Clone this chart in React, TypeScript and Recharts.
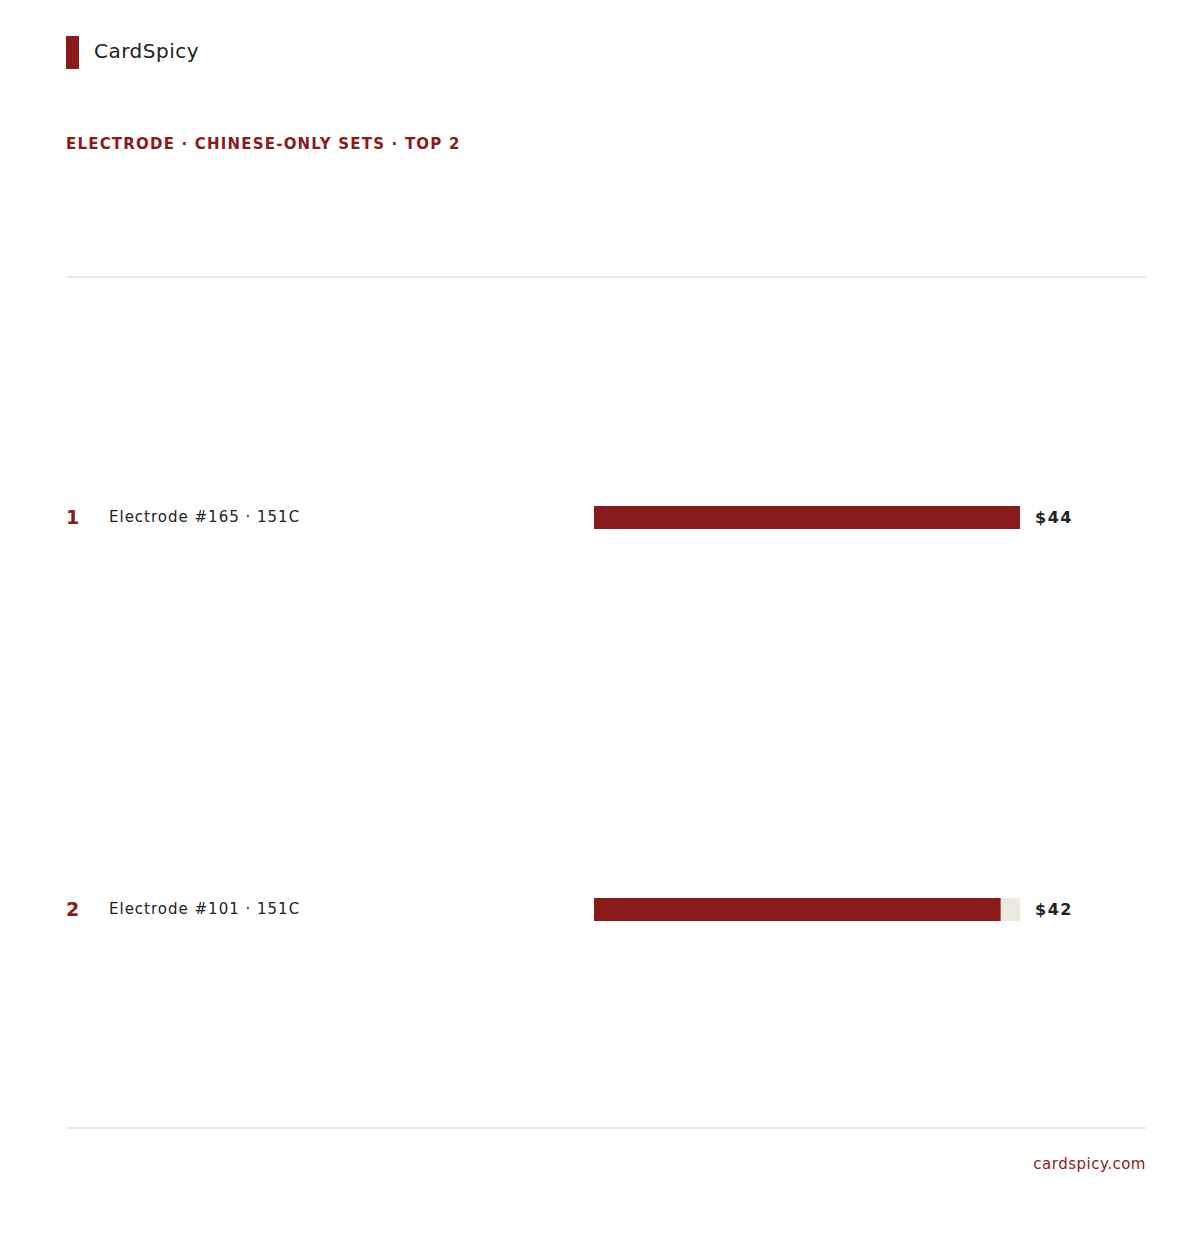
import React from "react";
import { Bar, BarChart, XAxis, YAxis } from "recharts";

// top 2 Chinese-only Electrode cards by price
const RANKS = [1, 2];
const CARD_NAMES = ["Electrode #165 · 151C", "Electrode #101 · 151C"];
const PRICES = [44, 42];

const RED = "#8b1a1a";
const TRACK = "#ece9e1";
const INK = "#222222";
const RULE = "#ebe8e3";
const FONT = "'DejaVu Sans', sans-serif";

const rows = CARD_NAMES.map((name, i) => ({
  key: String(i),
  rank: RANKS[i],
  name,
  price: PRICES[i],
}));

function NameTick(props: any) {
  const row = rows[props.index];
  if (!row) return null;
  return (
    <g>
      <text
        x={66}
        y={props.y}
        dy="0.35em"
        fill={RED}
        fontSize={19}
        fontWeight={700}
        fontFamily={FONT}
      >
        {row.rank}
      </text>
      <text
        x={109}
        y={props.y}
        dy="0.35em"
        fill={INK}
        fontSize={15}
        letterSpacing={1}
        fontFamily={FONT}
      >
        {row.name}
      </text>
    </g>
  );
}

function PriceTick(props: any) {
  const row = rows[props.index];
  if (!row) return null;
  return (
    <text
      x={1035}
      y={props.y}
      dy="0.35em"
      fill={INK}
      fontSize={16}
      fontWeight={700}
      letterSpacing={1.5}
      fontFamily={FONT}
    >
      ${row.price}
    </text>
  );
}

export default function App() {
  return (
    <div
      style={{
        position: "absolute",
        left: 0,
        top: 0,
        width: 1200,
        height: 1250,
        background: "#fff",
        fontFamily: FONT,
      }}
    >
      <div
        style={{ position: "absolute", left: 66, top: 36, width: 13, height: 33, background: RED }}
      />
      <div
        style={{
          position: "absolute",
          left: 94,
          top: 38,
          fontSize: 20,
          lineHeight: "26px",
          letterSpacing: 0.5,
          color: INK,
        }}
      >
        CardSpicy
      </div>
      <div
        style={{
          position: "absolute",
          left: 66,
          top: 134,
          fontSize: 15,
          lineHeight: "20px",
          fontWeight: 700,
          letterSpacing: 1.2,
          color: RED,
        }}
      >
        ELECTRODE · CHINESE-ONLY SETS · TOP 2
      </div>
      <div
        style={{ position: "absolute", left: 66, top: 276, width: 1080, height: 2, background: RULE }}
      />
      <div style={{ position: "absolute", left: 0, top: 277 }}>
        <BarChart
          width={1200}
          height={851}
          data={rows}
          layout="vertical"
          margin={{ top: 44, right: 0, bottom: 23, left: 0 }}
        >
          <XAxis type="number" domain={[0, 44]} hide />
          <YAxis
            yAxisId="names"
            type="category"
            dataKey="key"
            width={594}
            axisLine={false}
            tickLine={false}
            tick={<NameTick />}
          />
          <YAxis
            yAxisId="prices"
            orientation="right"
            type="category"
            dataKey="key"
            width={180}
            axisLine={false}
            tickLine={false}
            tick={<PriceTick />}
          />
          <Bar
            yAxisId="names"
            dataKey="price"
            fill={RED}
            barSize={23}
            background={{ fill: TRACK }}
            isAnimationActive={false}
          />
        </BarChart>
      </div>
      <div
        style={{ position: "absolute", left: 66, top: 1127, width: 1080, height: 2, background: RULE }}
      />
      <div
        style={{
          position: "absolute",
          right: 54,
          top: 1154,
          fontSize: 15,
          lineHeight: "20px",
          letterSpacing: 0.5,
          color: RED,
        }}
      >
        cardspicy.com
      </div>
    </div>
  );
}
